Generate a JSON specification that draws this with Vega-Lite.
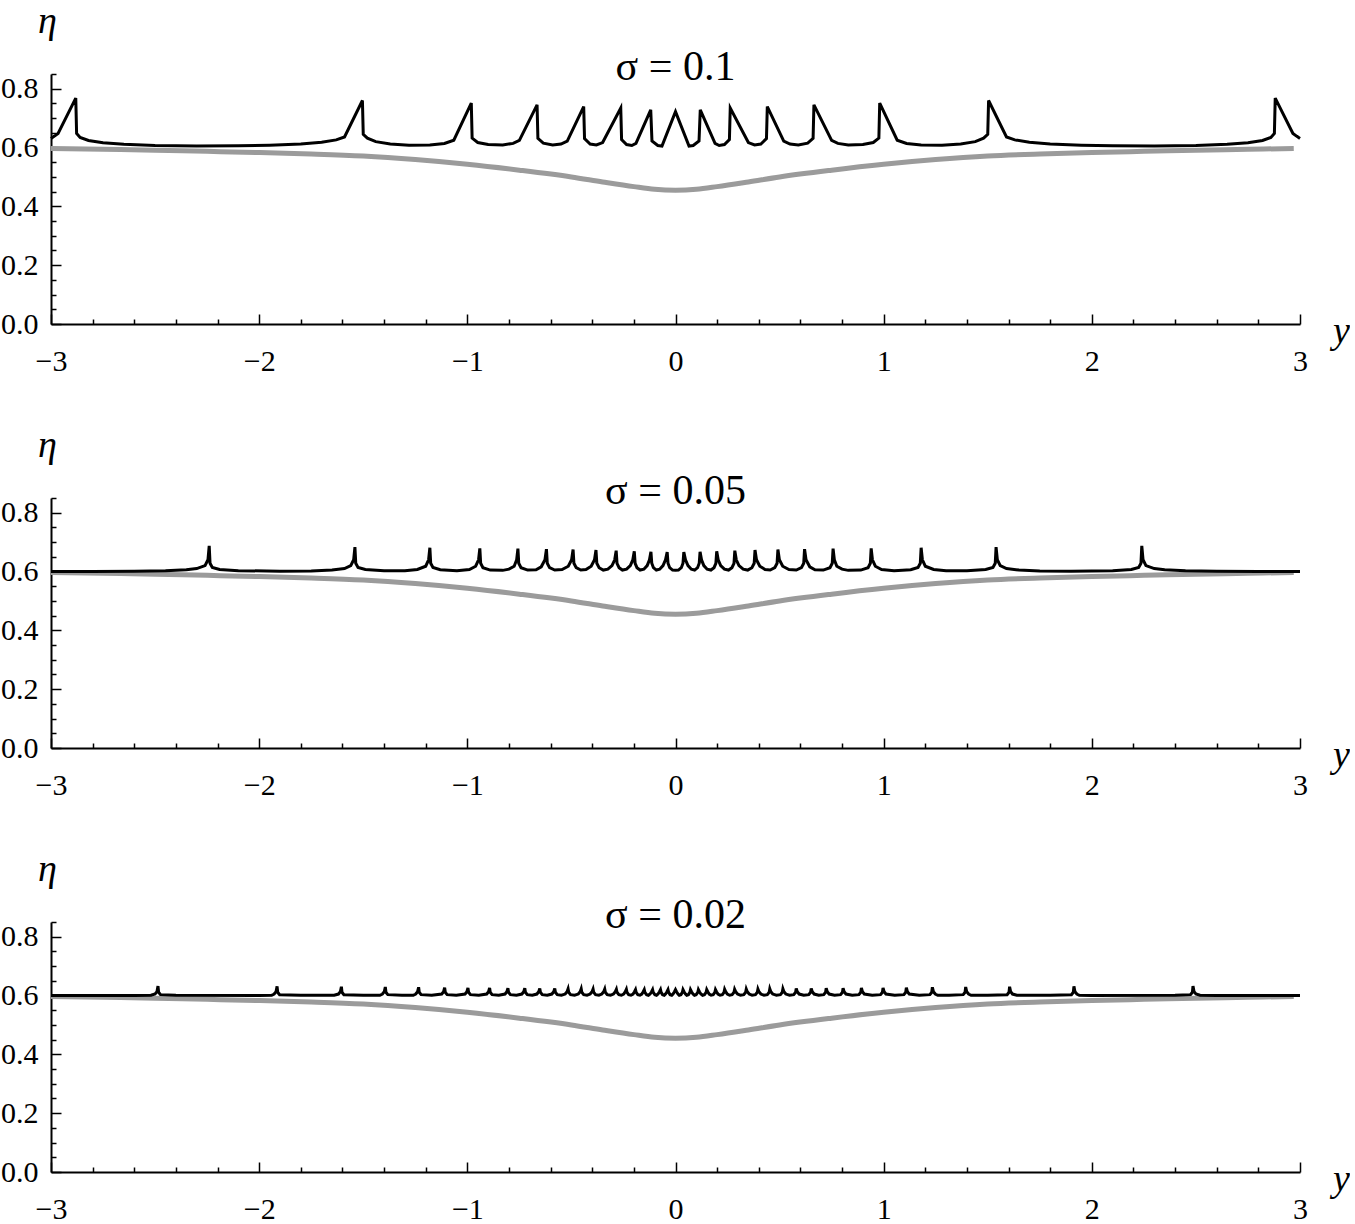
{
  "$schema": "https://vega.github.io/schema/vega-lite/v6.json",
  "background": "white",
  "padding": {"left": 0, "top": 2, "right": 0, "bottom": 0},
  "spacing": 174,
  "bounds": "flush",
  "config": {
    "view": {"stroke": null},
    "axis": {"grid": false, "domainColor": "black", "domainWidth": 2, "tickColor": "black", "tickWidth": 1.5, "labelFont": "Liberation Serif", "labelFontSize": 30, "labelColor": "black", "labelFlush": false, "labelOverlap": false, "titleFont": "Liberation Serif", "titleFontSize": 38, "titleFontStyle": "italic", "titleFontWeight": "normal", "titleColor": "black", "titleAngle": 0, "titleAlign": "center", "titleBaseline": "alphabetic"},
    "title": {"font": "Liberation Serif", "fontSize": 42, "fontWeight": "normal", "color": "black", "anchor": "middle", "baseline": "alphabetic", "offset": -87}
  },
  "datasets": {
    "gray": [
      {"x": -3, "e": 0.597}, {"x": -2.75, "e": 0.594}, {"x": -2.5, "e": 0.591}, {"x": -2.25, "e": 0.587}, {"x": -2, "e": 0.583}, {"x": -1.75, "e": 0.578}, {"x": -1.5, "e": 0.571}, {"x": -1.25, "e": 0.559}, {"x": -1, "e": 0.543}, {"x": -0.75, "e": 0.523}, {"x": -0.5, "e": 0.5}, {"x": -0.35, "e": 0.483}, {"x": -0.2, "e": 0.467}, {"x": -0.1, "e": 0.458}, {"x": 0, "e": 0.455},
      {"x": 0.1, "e": 0.458}, {"x": 0.2, "e": 0.467}, {"x": 0.35, "e": 0.483}, {"x": 0.5, "e": 0.5}, {"x": 0.75, "e": 0.523}, {"x": 1, "e": 0.543}, {"x": 1.25, "e": 0.559}, {"x": 1.5, "e": 0.571}, {"x": 1.75, "e": 0.578}, {"x": 2, "e": 0.583}, {"x": 2.25, "e": 0.587}, {"x": 2.5, "e": 0.591}, {"x": 2.75, "e": 0.594}, {"x": 2.97, "e": 0.597}
    ],
    "b1": [
      {"x": -3.000, "e": 0.631}, {"x": -2.985, "e": 0.638}, {"x": -2.966, "e": 0.648}, {"x": -2.881, "e": 0.768}, {"x": -2.877, "e": 0.648}, {"x": -2.860, "e": 0.634}, {"x": -2.820, "e": 0.624}, {"x": -2.750, "e": 0.616}, {"x": -2.650, "e": 0.611}, {"x": -2.500, "e": 0.607}, {"x": -2.300, "e": 0.605}, {"x": -2.100, "e": 0.606}, {"x": -1.950, "e": 0.608}, {"x": -1.800, "e": 0.612}, {"x": -1.700, "e": 0.618}, {"x": -1.630, "e": 0.626}, {"x": -1.590, "e": 0.636},
      {"x": -1.504, "e": 0.760}, {"x": -1.500, "e": 0.645}, {"x": -1.480, "e": 0.632}, {"x": -1.440, "e": 0.620}, {"x": -1.370, "e": 0.612}, {"x": -1.280, "e": 0.608}, {"x": -1.180, "e": 0.609}, {"x": -1.110, "e": 0.614}, {"x": -1.065, "e": 0.625},
      {"x": -0.981, "e": 0.751}, {"x": -0.977, "e": 0.632}, {"x": -0.950, "e": 0.617}, {"x": -0.900, "e": 0.610}, {"x": -0.830, "e": 0.609}, {"x": -0.780, "e": 0.614}, {"x": -0.750, "e": 0.624},
      {"x": -0.665, "e": 0.745}, {"x": -0.661, "e": 0.631}, {"x": -0.635, "e": 0.615}, {"x": -0.590, "e": 0.609}, {"x": -0.550, "e": 0.612}, {"x": -0.520, "e": 0.622},
      {"x": -0.441, "e": 0.739}, {"x": -0.437, "e": 0.630}, {"x": -0.410, "e": 0.612}, {"x": -0.380, "e": 0.609}, {"x": -0.350, "e": 0.617},
      {"x": -0.263, "e": 0.734}, {"x": -0.259, "e": 0.627}, {"x": -0.235, "e": 0.610}, {"x": -0.210, "e": 0.607}, {"x": -0.190, "e": 0.614},
      {"x": -0.119, "e": 0.728}, {"x": -0.113, "e": 0.622}, {"x": -0.085, "e": 0.607}, {"x": -0.065, "e": 0.605},
      {"x": 0.000, "e": 0.722},
      {"x": 0.065, "e": 0.605}, {"x": 0.085, "e": 0.607}, {"x": 0.113, "e": 0.622}, {"x": 0.119, "e": 0.728},
      {"x": 0.190, "e": 0.614}, {"x": 0.210, "e": 0.607}, {"x": 0.235, "e": 0.610}, {"x": 0.259, "e": 0.627}, {"x": 0.263, "e": 0.734},
      {"x": 0.350, "e": 0.617}, {"x": 0.380, "e": 0.609}, {"x": 0.410, "e": 0.612}, {"x": 0.437, "e": 0.630}, {"x": 0.441, "e": 0.739},
      {"x": 0.520, "e": 0.622}, {"x": 0.550, "e": 0.612}, {"x": 0.590, "e": 0.609}, {"x": 0.635, "e": 0.615}, {"x": 0.661, "e": 0.631}, {"x": 0.665, "e": 0.745},
      {"x": 0.750, "e": 0.624}, {"x": 0.780, "e": 0.614}, {"x": 0.830, "e": 0.609}, {"x": 0.900, "e": 0.610}, {"x": 0.950, "e": 0.617}, {"x": 0.977, "e": 0.632}, {"x": 0.981, "e": 0.751},
      {"x": 1.065, "e": 0.625}, {"x": 1.110, "e": 0.614}, {"x": 1.180, "e": 0.609}, {"x": 1.280, "e": 0.608}, {"x": 1.370, "e": 0.612}, {"x": 1.440, "e": 0.620}, {"x": 1.480, "e": 0.632}, {"x": 1.500, "e": 0.645}, {"x": 1.504, "e": 0.760},
      {"x": 1.590, "e": 0.636}, {"x": 1.630, "e": 0.626}, {"x": 1.700, "e": 0.618}, {"x": 1.800, "e": 0.612}, {"x": 1.950, "e": 0.608}, {"x": 2.100, "e": 0.606}, {"x": 2.300, "e": 0.605}, {"x": 2.500, "e": 0.607}, {"x": 2.650, "e": 0.611}, {"x": 2.750, "e": 0.616}, {"x": 2.820, "e": 0.624}, {"x": 2.860, "e": 0.634}, {"x": 2.877, "e": 0.648}, {"x": 2.881, "e": 0.768}, {"x": 2.966, "e": 0.648}, {"x": 2.985, "e": 0.638}, {"x": 3.000, "e": 0.631}
    ],
    "b2": [
      {"x": -3.00, "e": 0.600}, {"x": -2.80, "e": 0.600}, {"x": -2.60, "e": 0.601}, {"x": -2.45, "e": 0.603}, {"x": -2.35, "e": 0.606}, {"x": -2.30, "e": 0.610}, {"x": -2.26, "e": 0.620}, {"x": -2.246, "e": 0.640}, {"x": -2.24, "e": 0.687}, {"x": -2.236, "e": 0.628}, {"x": -2.225, "e": 0.614}, {"x": -2.19, "e": 0.607}, {"x": -2.10, "e": 0.603}, {"x": -1.90, "e": 0.601},
      {"x": -1.75, "e": 0.602}, {"x": -1.65, "e": 0.605}, {"x": -1.59, "e": 0.610}, {"x": -1.56, "e": 0.620}, {"x": -1.546, "e": 0.640}, {"x": -1.54, "e": 0.683}, {"x": -1.536, "e": 0.628}, {"x": -1.525, "e": 0.614}, {"x": -1.49, "e": 0.607}, {"x": -1.40, "e": 0.603},
      {"x": -1.30, "e": 0.603}, {"x": -1.24, "e": 0.607}, {"x": -1.20, "e": 0.618}, {"x": -1.186, "e": 0.640}, {"x": -1.18, "e": 0.681}, {"x": -1.176, "e": 0.628}, {"x": -1.165, "e": 0.614}, {"x": -1.13, "e": 0.606}, {"x": -1.05, "e": 0.603},
      {"x": -0.99, "e": 0.607}, {"x": -0.96, "e": 0.618}, {"x": -0.946, "e": 0.640}, {"x": -0.94, "e": 0.679}, {"x": -0.936, "e": 0.628}, {"x": -0.925, "e": 0.613}, {"x": -0.89, "e": 0.605}, {"x": -0.83, "e": 0.604},
      {"x": -0.80, "e": 0.608}, {"x": -0.775, "e": 0.618}, {"x": -0.763, "e": 0.640}, {"x": -0.757, "e": 0.678}, {"x": -0.753, "e": 0.628}, {"x": -0.742, "e": 0.613}, {"x": -0.71, "e": 0.605},
      {"x": -0.67, "e": 0.606}, {"x": -0.645, "e": 0.616}, {"x": -0.627, "e": 0.640}, {"x": -0.620, "e": 0.676}, {"x": -0.616, "e": 0.628}, {"x": -0.605, "e": 0.613}, {"x": -0.58, "e": 0.605},
      {"x": -0.545, "e": 0.607}, {"x": -0.515, "e": 0.618}, {"x": -0.499, "e": 0.640}, {"x": -0.492, "e": 0.675}, {"x": -0.488, "e": 0.628}, {"x": -0.477, "e": 0.613}, {"x": -0.455, "e": 0.605},
      {"x": -0.43, "e": 0.607}, {"x": -0.405, "e": 0.618}, {"x": -0.389, "e": 0.640}, {"x": -0.382, "e": 0.673}, {"x": -0.378, "e": 0.628}, {"x": -0.367, "e": 0.613}, {"x": -0.347, "e": 0.605},
      {"x": -0.325, "e": 0.608}, {"x": -0.305, "e": 0.620}, {"x": -0.292, "e": 0.640}, {"x": -0.285, "e": 0.671}, {"x": -0.281, "e": 0.628}, {"x": -0.271, "e": 0.613}, {"x": -0.255, "e": 0.605},
      {"x": -0.235, "e": 0.608}, {"x": -0.217, "e": 0.620}, {"x": -0.205, "e": 0.640}, {"x": -0.198, "e": 0.669}, {"x": -0.194, "e": 0.628}, {"x": -0.185, "e": 0.613}, {"x": -0.170, "e": 0.605},
      {"x": -0.152, "e": 0.608}, {"x": -0.136, "e": 0.620}, {"x": -0.125, "e": 0.640}, {"x": -0.118, "e": 0.667}, {"x": -0.114, "e": 0.628}, {"x": -0.106, "e": 0.613}, {"x": -0.092, "e": 0.605},
      {"x": -0.076, "e": 0.608}, {"x": -0.060, "e": 0.620}, {"x": -0.048, "e": 0.640}, {"x": -0.040, "e": 0.666}, {"x": -0.036, "e": 0.628}, {"x": -0.028, "e": 0.613}, {"x": -0.014, "e": 0.605}, {"x": 0.000, "e": 0.604},
      {"x": 0.014, "e": 0.605}, {"x": 0.028, "e": 0.613}, {"x": 0.036, "e": 0.628}, {"x": 0.040, "e": 0.666}, {"x": 0.048, "e": 0.640}, {"x": 0.060, "e": 0.620}, {"x": 0.076, "e": 0.608},
      {"x": 0.092, "e": 0.605}, {"x": 0.106, "e": 0.613}, {"x": 0.114, "e": 0.628}, {"x": 0.118, "e": 0.667}, {"x": 0.125, "e": 0.640}, {"x": 0.136, "e": 0.620}, {"x": 0.152, "e": 0.608},
      {"x": 0.170, "e": 0.605}, {"x": 0.185, "e": 0.613}, {"x": 0.194, "e": 0.628}, {"x": 0.198, "e": 0.669}, {"x": 0.205, "e": 0.640}, {"x": 0.217, "e": 0.620}, {"x": 0.235, "e": 0.608},
      {"x": 0.255, "e": 0.605}, {"x": 0.271, "e": 0.613}, {"x": 0.281, "e": 0.628}, {"x": 0.285, "e": 0.671}, {"x": 0.292, "e": 0.640}, {"x": 0.305, "e": 0.620}, {"x": 0.325, "e": 0.608},
      {"x": 0.347, "e": 0.605}, {"x": 0.367, "e": 0.613}, {"x": 0.378, "e": 0.628}, {"x": 0.382, "e": 0.673}, {"x": 0.389, "e": 0.640}, {"x": 0.405, "e": 0.618}, {"x": 0.43, "e": 0.607},
      {"x": 0.455, "e": 0.605}, {"x": 0.477, "e": 0.613}, {"x": 0.488, "e": 0.628}, {"x": 0.492, "e": 0.675}, {"x": 0.499, "e": 0.640}, {"x": 0.515, "e": 0.618}, {"x": 0.545, "e": 0.607},
      {"x": 0.58, "e": 0.605}, {"x": 0.605, "e": 0.613}, {"x": 0.616, "e": 0.628}, {"x": 0.620, "e": 0.676}, {"x": 0.627, "e": 0.640}, {"x": 0.645, "e": 0.616}, {"x": 0.67, "e": 0.606},
      {"x": 0.71, "e": 0.605}, {"x": 0.742, "e": 0.613}, {"x": 0.753, "e": 0.628}, {"x": 0.757, "e": 0.678}, {"x": 0.763, "e": 0.640}, {"x": 0.775, "e": 0.618}, {"x": 0.80, "e": 0.608},
      {"x": 0.83, "e": 0.604}, {"x": 0.89, "e": 0.605}, {"x": 0.925, "e": 0.613}, {"x": 0.936, "e": 0.628}, {"x": 0.94, "e": 0.679}, {"x": 0.946, "e": 0.640}, {"x": 0.96, "e": 0.618}, {"x": 0.99, "e": 0.607},
      {"x": 1.05, "e": 0.603}, {"x": 1.13, "e": 0.606}, {"x": 1.165, "e": 0.614}, {"x": 1.176, "e": 0.628}, {"x": 1.18, "e": 0.681}, {"x": 1.186, "e": 0.640}, {"x": 1.20, "e": 0.618}, {"x": 1.24, "e": 0.607}, {"x": 1.30, "e": 0.603},
      {"x": 1.40, "e": 0.603}, {"x": 1.49, "e": 0.607}, {"x": 1.525, "e": 0.614}, {"x": 1.536, "e": 0.628}, {"x": 1.54, "e": 0.683}, {"x": 1.546, "e": 0.640}, {"x": 1.56, "e": 0.620}, {"x": 1.59, "e": 0.610}, {"x": 1.65, "e": 0.605}, {"x": 1.75, "e": 0.602},
      {"x": 1.90, "e": 0.601}, {"x": 2.10, "e": 0.603}, {"x": 2.19, "e": 0.607}, {"x": 2.225, "e": 0.614}, {"x": 2.236, "e": 0.628}, {"x": 2.24, "e": 0.687}, {"x": 2.246, "e": 0.640}, {"x": 2.26, "e": 0.620}, {"x": 2.30, "e": 0.610}, {"x": 2.35, "e": 0.606}, {"x": 2.45, "e": 0.603}, {"x": 2.60, "e": 0.601}, {"x": 2.80, "e": 0.600}, {"x": 3.00, "e": 0.600}
    ],
    "b3": [
      {"x": -3.000, "e": 0.600}, {"x": -2.600, "e": 0.600}, {"x": -2.520, "e": 0.601}, {"x": -2.500, "e": 0.605}, {"x": -2.491, "e": 0.613}, {"x": -2.486, "e": 0.632}, {"x": -2.483, "e": 0.611}, {"x": -2.474, "e": 0.603}, {"x": -2.400, "e": 0.601},
      {"x": -2.000, "e": 0.600}, {"x": -1.940, "e": 0.601}, {"x": -1.928, "e": 0.605}, {"x": -1.919, "e": 0.613}, {"x": -1.914, "e": 0.631}, {"x": -1.911, "e": 0.611}, {"x": -1.902, "e": 0.603}, {"x": -1.800, "e": 0.601},
      {"x": -1.640, "e": 0.601}, {"x": -1.619, "e": 0.605}, {"x": -1.610, "e": 0.613}, {"x": -1.605, "e": 0.630}, {"x": -1.602, "e": 0.611}, {"x": -1.593, "e": 0.603}, {"x": -1.500, "e": 0.601},
      {"x": -1.420, "e": 0.601}, {"x": -1.408, "e": 0.605}, {"x": -1.399, "e": 0.613}, {"x": -1.394, "e": 0.629}, {"x": -1.391, "e": 0.611}, {"x": -1.382, "e": 0.603}, {"x": -1.314, "e": 0.601},
      {"x": -1.260, "e": 0.601}, {"x": -1.248, "e": 0.605}, {"x": -1.239, "e": 0.613}, {"x": -1.234, "e": 0.628}, {"x": -1.231, "e": 0.611}, {"x": -1.222, "e": 0.603}, {"x": -1.171, "e": 0.601},
      {"x": -1.123, "e": 0.605}, {"x": -1.114, "e": 0.613}, {"x": -1.109, "e": 0.627}, {"x": -1.106, "e": 0.611}, {"x": -1.097, "e": 0.603}, {"x": -1.053, "e": 0.601},
      {"x": -1.011, "e": 0.605}, {"x": -1.002, "e": 0.613}, {"x": -0.997, "e": 0.626}, {"x": -0.994, "e": 0.611}, {"x": -0.985, "e": 0.603}, {"x": -0.945, "e": 0.601},
      {"x": -0.907, "e": 0.605}, {"x": -0.898, "e": 0.613}, {"x": -0.893, "e": 0.626}, {"x": -0.890, "e": 0.611}, {"x": -0.881, "e": 0.603}, {"x": -0.849, "e": 0.601},
      {"x": -0.819, "e": 0.605}, {"x": -0.810, "e": 0.613}, {"x": -0.805, "e": 0.625}, {"x": -0.802, "e": 0.611}, {"x": -0.793, "e": 0.603}, {"x": -0.764, "e": 0.601},
      {"x": -0.738, "e": 0.605}, {"x": -0.729, "e": 0.613}, {"x": -0.724, "e": 0.625}, {"x": -0.721, "e": 0.611}, {"x": -0.712, "e": 0.603}, {"x": -0.688, "e": 0.601},
      {"x": -0.666, "e": 0.605}, {"x": -0.657, "e": 0.613}, {"x": -0.652, "e": 0.624}, {"x": -0.649, "e": 0.611}, {"x": -0.640, "e": 0.603}, {"x": -0.616, "e": 0.601},
      {"x": -0.594, "e": 0.605}, {"x": -0.585, "e": 0.613}, {"x": -0.580, "e": 0.624}, {"x": -0.577, "e": 0.611}, {"x": -0.568, "e": 0.603}, {"x": -0.548, "e": 0.601},
      {"x": -0.530, "e": 0.605}, {"x": -0.521, "e": 0.613}, {"x": -0.516, "e": 0.623}, {"x": -0.513, "e": 0.611}, {"x": -0.504, "e": 0.603}, {"x": -0.485, "e": 0.601},
      {"x": -0.467, "e": 0.605}, {"x": -0.458, "e": 0.613}, {"x": -0.453, "e": 0.623}, {"x": -0.450, "e": 0.611}, {"x": -0.441, "e": 0.603}, {"x": -0.425, "e": 0.601},
      {"x": -0.410, "e": 0.605}, {"x": -0.401, "e": 0.613}, {"x": -0.396, "e": 0.622}, {"x": -0.393, "e": 0.611}, {"x": -0.384, "e": 0.603}, {"x": -0.368, "e": 0.601},
      {"x": -0.354, "e": 0.605}, {"x": -0.345, "e": 0.613}, {"x": -0.340, "e": 0.622}, {"x": -0.337, "e": 0.611}, {"x": -0.328, "e": 0.603}, {"x": -0.312, "e": 0.601},
      {"x": -0.298, "e": 0.605}, {"x": -0.289, "e": 0.613}, {"x": -0.284, "e": 0.621}, {"x": -0.281, "e": 0.611}, {"x": -0.272, "e": 0.603}, {"x": -0.260, "e": 0.601},
      {"x": -0.249, "e": 0.605}, {"x": -0.241, "e": 0.613}, {"x": -0.236, "e": 0.621}, {"x": -0.233, "e": 0.611}, {"x": -0.225, "e": 0.603}, {"x": -0.214, "e": 0.601},
      {"x": -0.204, "e": 0.605}, {"x": -0.197, "e": 0.613}, {"x": -0.192, "e": 0.620}, {"x": -0.189, "e": 0.611}, {"x": -0.181, "e": 0.603}, {"x": -0.171, "e": 0.601},
      {"x": -0.162, "e": 0.605}, {"x": -0.155, "e": 0.613}, {"x": -0.150, "e": 0.620}, {"x": -0.147, "e": 0.611}, {"x": -0.139, "e": 0.603}, {"x": -0.130, "e": 0.601},
      {"x": -0.122, "e": 0.605}, {"x": -0.115, "e": 0.613}, {"x": -0.110, "e": 0.620}, {"x": -0.107, "e": 0.611}, {"x": -0.099, "e": 0.603}, {"x": -0.091, "e": 0.601},
      {"x": -0.084, "e": 0.605}, {"x": -0.077, "e": 0.613}, {"x": -0.072, "e": 0.620}, {"x": -0.069, "e": 0.611}, {"x": -0.062, "e": 0.603}, {"x": -0.054, "e": 0.601},
      {"x": -0.048, "e": 0.605}, {"x": -0.041, "e": 0.613}, {"x": -0.036, "e": 0.620}, {"x": -0.033, "e": 0.611}, {"x": -0.026, "e": 0.603}, {"x": -0.018, "e": 0.601},
      {"x": -0.012, "e": 0.605}, {"x": -0.005, "e": 0.613}, {"x": 0.000, "e": 0.620}, {"x": 0.005, "e": 0.613}, {"x": 0.012, "e": 0.605},
      {"x": 0.018, "e": 0.601}, {"x": 0.026, "e": 0.603}, {"x": 0.033, "e": 0.611}, {"x": 0.036, "e": 0.620}, {"x": 0.041, "e": 0.613}, {"x": 0.048, "e": 0.605},
      {"x": 0.054, "e": 0.601}, {"x": 0.062, "e": 0.603}, {"x": 0.069, "e": 0.611}, {"x": 0.072, "e": 0.620}, {"x": 0.077, "e": 0.613}, {"x": 0.084, "e": 0.605},
      {"x": 0.091, "e": 0.601}, {"x": 0.099, "e": 0.603}, {"x": 0.107, "e": 0.611}, {"x": 0.110, "e": 0.620}, {"x": 0.115, "e": 0.613}, {"x": 0.122, "e": 0.605},
      {"x": 0.130, "e": 0.601}, {"x": 0.139, "e": 0.603}, {"x": 0.147, "e": 0.611}, {"x": 0.150, "e": 0.620}, {"x": 0.155, "e": 0.613}, {"x": 0.162, "e": 0.605},
      {"x": 0.171, "e": 0.601}, {"x": 0.181, "e": 0.603}, {"x": 0.189, "e": 0.611}, {"x": 0.192, "e": 0.620}, {"x": 0.197, "e": 0.613}, {"x": 0.204, "e": 0.605},
      {"x": 0.214, "e": 0.601}, {"x": 0.225, "e": 0.603}, {"x": 0.233, "e": 0.611}, {"x": 0.236, "e": 0.621}, {"x": 0.241, "e": 0.613}, {"x": 0.249, "e": 0.605},
      {"x": 0.260, "e": 0.601}, {"x": 0.272, "e": 0.603}, {"x": 0.281, "e": 0.611}, {"x": 0.284, "e": 0.621}, {"x": 0.289, "e": 0.613}, {"x": 0.298, "e": 0.605},
      {"x": 0.312, "e": 0.601}, {"x": 0.328, "e": 0.603}, {"x": 0.337, "e": 0.611}, {"x": 0.340, "e": 0.622}, {"x": 0.345, "e": 0.613}, {"x": 0.354, "e": 0.605},
      {"x": 0.368, "e": 0.601}, {"x": 0.384, "e": 0.603}, {"x": 0.393, "e": 0.611}, {"x": 0.396, "e": 0.622}, {"x": 0.401, "e": 0.613}, {"x": 0.410, "e": 0.605},
      {"x": 0.425, "e": 0.601}, {"x": 0.441, "e": 0.603}, {"x": 0.450, "e": 0.611}, {"x": 0.453, "e": 0.623}, {"x": 0.458, "e": 0.613}, {"x": 0.467, "e": 0.605},
      {"x": 0.485, "e": 0.601}, {"x": 0.504, "e": 0.603}, {"x": 0.513, "e": 0.611}, {"x": 0.516, "e": 0.623}, {"x": 0.521, "e": 0.613}, {"x": 0.530, "e": 0.605},
      {"x": 0.548, "e": 0.601}, {"x": 0.568, "e": 0.603}, {"x": 0.577, "e": 0.611}, {"x": 0.580, "e": 0.624}, {"x": 0.585, "e": 0.613}, {"x": 0.594, "e": 0.605},
      {"x": 0.616, "e": 0.601}, {"x": 0.640, "e": 0.603}, {"x": 0.649, "e": 0.611}, {"x": 0.652, "e": 0.624}, {"x": 0.657, "e": 0.613}, {"x": 0.666, "e": 0.605},
      {"x": 0.688, "e": 0.601}, {"x": 0.712, "e": 0.603}, {"x": 0.721, "e": 0.611}, {"x": 0.724, "e": 0.625}, {"x": 0.729, "e": 0.613}, {"x": 0.738, "e": 0.605},
      {"x": 0.764, "e": 0.601}, {"x": 0.793, "e": 0.603}, {"x": 0.802, "e": 0.611}, {"x": 0.805, "e": 0.625}, {"x": 0.810, "e": 0.613}, {"x": 0.819, "e": 0.605},
      {"x": 0.849, "e": 0.601}, {"x": 0.881, "e": 0.603}, {"x": 0.890, "e": 0.611}, {"x": 0.893, "e": 0.626}, {"x": 0.898, "e": 0.613}, {"x": 0.907, "e": 0.605},
      {"x": 0.945, "e": 0.601}, {"x": 0.985, "e": 0.603}, {"x": 0.994, "e": 0.611}, {"x": 0.997, "e": 0.626}, {"x": 1.002, "e": 0.613}, {"x": 1.011, "e": 0.605},
      {"x": 1.053, "e": 0.601}, {"x": 1.097, "e": 0.603}, {"x": 1.106, "e": 0.611}, {"x": 1.109, "e": 0.627}, {"x": 1.114, "e": 0.613}, {"x": 1.123, "e": 0.605},
      {"x": 1.171, "e": 0.601}, {"x": 1.222, "e": 0.603}, {"x": 1.231, "e": 0.611}, {"x": 1.234, "e": 0.628}, {"x": 1.239, "e": 0.613}, {"x": 1.248, "e": 0.605}, {"x": 1.260, "e": 0.601},
      {"x": 1.314, "e": 0.601}, {"x": 1.382, "e": 0.603}, {"x": 1.391, "e": 0.611}, {"x": 1.394, "e": 0.629}, {"x": 1.399, "e": 0.613}, {"x": 1.408, "e": 0.605}, {"x": 1.420, "e": 0.601},
      {"x": 1.500, "e": 0.601}, {"x": 1.593, "e": 0.603}, {"x": 1.602, "e": 0.611}, {"x": 1.605, "e": 0.630}, {"x": 1.610, "e": 0.613}, {"x": 1.619, "e": 0.605}, {"x": 1.640, "e": 0.601},
      {"x": 1.800, "e": 0.601}, {"x": 1.902, "e": 0.603}, {"x": 1.911, "e": 0.611}, {"x": 1.914, "e": 0.631}, {"x": 1.919, "e": 0.613}, {"x": 1.928, "e": 0.605}, {"x": 1.940, "e": 0.601}, {"x": 2.000, "e": 0.600},
      {"x": 2.400, "e": 0.601}, {"x": 2.474, "e": 0.603}, {"x": 2.483, "e": 0.611}, {"x": 2.486, "e": 0.632}, {"x": 2.491, "e": 0.613}, {"x": 2.500, "e": 0.605}, {"x": 2.520, "e": 0.601}, {"x": 2.600, "e": 0.600}, {"x": 3.000, "e": 0.600}
    ]
  },
  "vconcat": [
    {
      "width": 1249, "height": 250,
      "title": {"text": "σ = 0.1"},
      "encoding": {
        "x": {"field": "x", "type": "quantitative", "scale": {"domain": [-3, 3], "nice": false, "zero": false},
          "axis": {"values": [-3,-2.8,-2.6,-2.4,-2.2,-2,-1.8,-1.6,-1.4,-1.2,-1,-0.8,-0.6,-0.4,-0.2,0,0.2,0.4,0.6,0.8,1,1.2,1.4,1.6,1.8,2,2.2,2.4,2.6,2.8,3], "tickCount": 100, "tickMinStep": 0.01,
            "labelExpr": "abs(datum.value - round(datum.value)) < 0.001 ? format(round(datum.value), 'd') : ''",
            "tickSize": {"condition": {"test": "abs(datum.value - round(datum.value)) < 0.001", "value": -10}, "value": -5},
            "labelPadding": 32, "title": "y", "titleX": 1290, "titleY": 18}},
        "y": {"field": "e", "type": "quantitative", "scale": {"domain": [0, 0.85], "nice": false},
          "axis": {"values": [0,0.05,0.1,0.15,0.2,0.25,0.3,0.35,0.4,0.45,0.5,0.55,0.6,0.65,0.7,0.75,0.8,0.85], "tickCount": 100, "format": ".1f",
            "labelExpr": "abs(datum.value*5 - round(datum.value*5)) < 0.001 ? datum.label : ''",
            "tickSize": {"condition": {"test": "abs(datum.value*5 - round(datum.value*5)) < 0.001", "value": -10}, "value": -5},
            "labelPadding": 23, "title": "η", "titleX": -4, "titleY": -42}}
      },
      "layer": [
        {"data": {"name": "gray"}, "mark": {"type": "line", "color": "#9b9b9b", "strokeWidth": 5, "interpolate": "monotone"}},
        {"data": {"name": "b1"}, "mark": {"type": "line", "color": "black", "strokeWidth": 3}}
      ]
    },
    {
      "width": 1249, "height": 250,
      "title": {"text": "σ = 0.05"},
      "encoding": {
        "x": {"field": "x", "type": "quantitative", "scale": {"domain": [-3, 3], "nice": false, "zero": false},
          "axis": {"values": [-3,-2.8,-2.6,-2.4,-2.2,-2,-1.8,-1.6,-1.4,-1.2,-1,-0.8,-0.6,-0.4,-0.2,0,0.2,0.4,0.6,0.8,1,1.2,1.4,1.6,1.8,2,2.2,2.4,2.6,2.8,3], "tickCount": 100, "tickMinStep": 0.01,
            "labelExpr": "abs(datum.value - round(datum.value)) < 0.001 ? format(round(datum.value), 'd') : ''",
            "tickSize": {"condition": {"test": "abs(datum.value - round(datum.value)) < 0.001", "value": -10}, "value": -5},
            "labelPadding": 32, "title": "y", "titleX": 1290, "titleY": 18}},
        "y": {"field": "e", "type": "quantitative", "scale": {"domain": [0, 0.85], "nice": false},
          "axis": {"values": [0,0.05,0.1,0.15,0.2,0.25,0.3,0.35,0.4,0.45,0.5,0.55,0.6,0.65,0.7,0.75,0.8,0.85], "tickCount": 100, "format": ".1f",
            "labelExpr": "abs(datum.value*5 - round(datum.value*5)) < 0.001 ? datum.label : ''",
            "tickSize": {"condition": {"test": "abs(datum.value*5 - round(datum.value*5)) < 0.001", "value": -10}, "value": -5},
            "labelPadding": 23, "title": "η", "titleX": -4, "titleY": -42}}
      },
      "layer": [
        {"data": {"name": "gray"}, "mark": {"type": "line", "color": "#9b9b9b", "strokeWidth": 5, "interpolate": "monotone"}},
        {"data": {"name": "b2"}, "mark": {"type": "line", "color": "black", "strokeWidth": 3}}
      ]
    },
    {
      "width": 1249, "height": 250,
      "title": {"text": "σ = 0.02"},
      "encoding": {
        "x": {"field": "x", "type": "quantitative", "scale": {"domain": [-3, 3], "nice": false, "zero": false},
          "axis": {"values": [-3,-2.8,-2.6,-2.4,-2.2,-2,-1.8,-1.6,-1.4,-1.2,-1,-0.8,-0.6,-0.4,-0.2,0,0.2,0.4,0.6,0.8,1,1.2,1.4,1.6,1.8,2,2.2,2.4,2.6,2.8,3], "tickCount": 100, "tickMinStep": 0.01,
            "labelExpr": "abs(datum.value - round(datum.value)) < 0.001 ? format(round(datum.value), 'd') : ''",
            "tickSize": {"condition": {"test": "abs(datum.value - round(datum.value)) < 0.001", "value": -10}, "value": -5},
            "labelPadding": 32, "title": "y", "titleX": 1290, "titleY": 18}},
        "y": {"field": "e", "type": "quantitative", "scale": {"domain": [0, 0.85], "nice": false},
          "axis": {"values": [0,0.05,0.1,0.15,0.2,0.25,0.3,0.35,0.4,0.45,0.5,0.55,0.6,0.65,0.7,0.75,0.8,0.85], "tickCount": 100, "format": ".1f",
            "labelExpr": "abs(datum.value*5 - round(datum.value*5)) < 0.001 ? datum.label : ''",
            "tickSize": {"condition": {"test": "abs(datum.value*5 - round(datum.value*5)) < 0.001", "value": -10}, "value": -5},
            "labelPadding": 23, "title": "η", "titleX": -4, "titleY": -42}}
      },
      "layer": [
        {"data": {"name": "gray"}, "mark": {"type": "line", "color": "#9b9b9b", "strokeWidth": 5, "interpolate": "monotone"}},
        {"data": {"name": "b3"}, "mark": {"type": "line", "color": "black", "strokeWidth": 3}}
      ]
    }
  ]
}
